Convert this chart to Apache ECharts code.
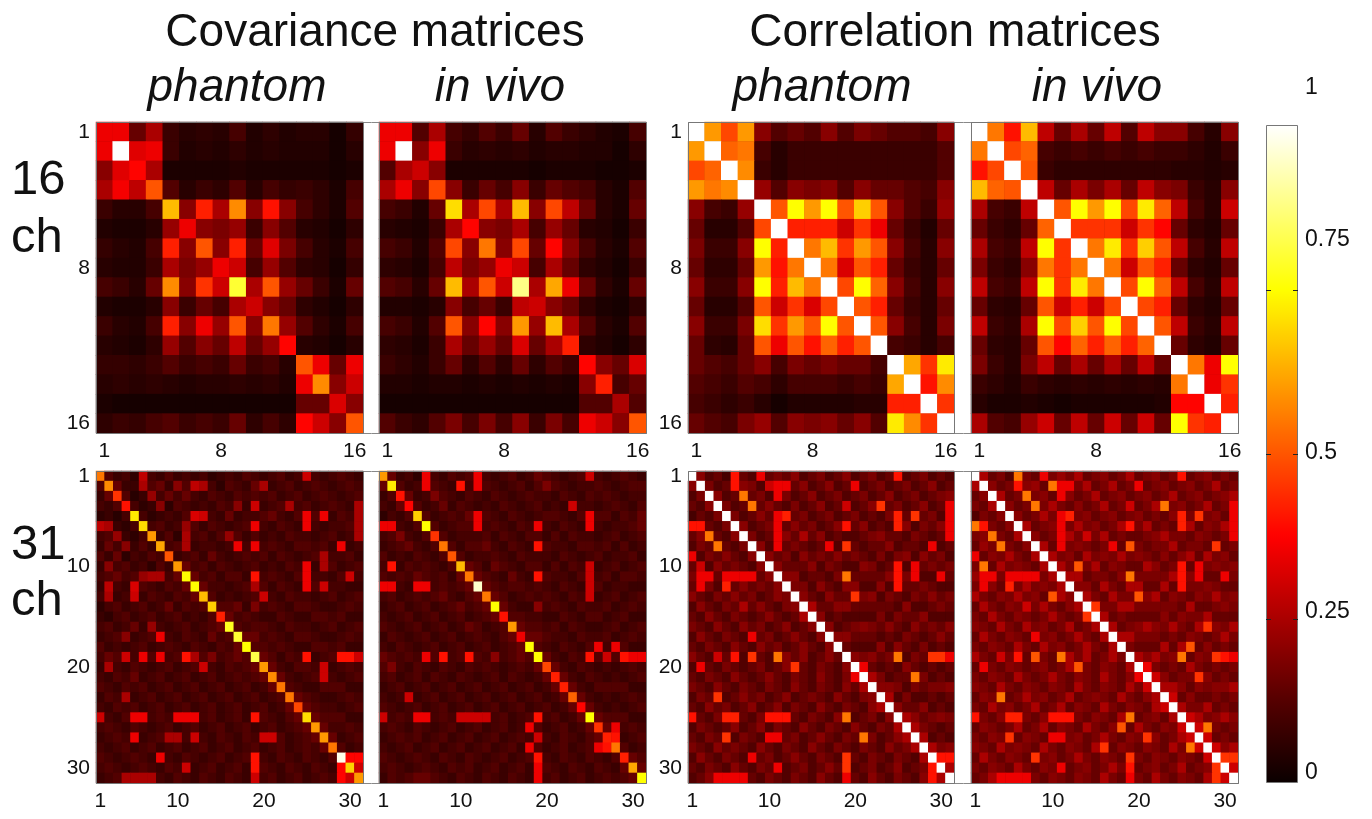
<!DOCTYPE html>
<html>
<head>
<meta charset="utf-8">
<script src="https://cdn.jsdelivr.net/npm/echarts@6/dist/echarts.min.js"></script>
<style>
  html, body { margin: 0; padding: 0; background: #fff; }
  #chart { width: 1372px; height: 819px; }
</style>
</head>
<body>
<div id="chart"></div>
<script>
// values in hundredths (0..100)
var covPhantom16 = [
  [35,35,15,25,8,5,6,5,10,4,6,4,5,5,2,7],
  [35,100,33,35,8,4,5,4,6,4,5,4,4,4,2,5],
  [20,33,38,25,3,3,3,3,4,3,3,3,3,3,2,3],
  [25,36,28,50,12,5,8,6,12,5,10,7,8,6,3,10],
  [8,5,5,10,65,20,42,25,58,20,40,20,10,6,3,12],
  [4,3,3,5,22,35,20,18,22,8,20,12,5,4,2,6],
  [7,5,4,10,42,20,50,20,42,15,33,18,10,5,3,10],
  [5,4,4,8,25,18,22,35,30,10,22,12,6,5,2,7],
  [10,8,5,15,58,20,45,30,80,25,50,22,15,8,3,15],
  [4,3,3,5,20,8,15,10,25,30,20,15,6,4,2,6],
  [8,5,4,10,42,20,35,22,50,20,55,22,12,6,3,10],
  [5,4,3,6,22,12,20,15,28,15,22,38,5,4,2,5],
  [7,7,6,8,12,8,10,8,15,8,10,5,50,35,15,35],
  [5,6,5,6,5,4,5,5,6,5,6,4,35,58,20,30],
  [3,2,2,2,2,2,2,2,2,2,2,2,15,15,32,20],
  [6,8,7,10,12,8,10,8,15,6,10,6,38,30,20,50]
];
var covVivo16 = [
  [35,35,12,25,10,7,12,8,15,5,12,8,6,4,3,10],
  [35,100,20,35,8,5,6,5,6,4,5,5,4,4,2,6],
  [12,25,30,20,3,3,3,3,3,2,3,3,3,2,2,3],
  [25,35,20,48,20,8,15,10,20,8,15,12,10,5,3,12],
  [10,8,4,15,70,25,48,25,65,20,48,28,15,5,3,15],
  [5,4,3,8,25,38,20,18,25,10,22,15,5,4,2,8],
  [10,8,4,12,48,20,55,20,48,15,38,20,10,5,3,12],
  [6,5,3,10,28,18,22,35,30,10,25,15,6,4,2,8],
  [12,10,5,15,65,25,50,30,88,25,62,35,15,6,3,15],
  [4,4,3,5,20,10,15,8,28,30,20,15,6,3,2,6],
  [10,8,4,12,50,20,38,20,60,22,65,25,12,5,3,12],
  [6,5,3,8,25,15,22,15,32,15,25,42,6,4,2,6],
  [8,6,4,8,15,6,12,6,15,6,12,8,38,20,15,32],
  [4,4,3,4,4,3,4,3,4,3,4,3,20,42,10,15],
  [2,2,2,2,2,2,2,2,2,2,2,2,12,12,25,12],
  [12,8,6,12,18,10,18,10,20,8,18,10,35,30,20,50]
];
var corrPhantom16 = [
  [100,60,48,60,20,12,15,12,20,12,18,15,12,12,10,20],
  [60,100,52,55,10,5,8,8,8,8,8,8,8,8,8,12],
  [48,52,100,58,8,5,8,8,8,8,8,8,8,8,8,12],
  [60,55,58,100,22,12,20,18,20,12,20,15,15,12,10,20],
  [20,10,8,22,100,50,75,60,75,50,68,50,20,12,8,22],
  [15,5,5,12,48,100,42,42,42,30,45,35,15,8,4,15],
  [18,8,8,20,75,42,100,55,65,45,60,50,20,10,5,20],
  [15,6,6,15,60,40,55,100,55,32,50,42,15,8,5,15],
  [20,8,8,20,75,42,65,55,100,48,75,52,20,10,5,20],
  [15,5,5,12,50,30,45,32,48,100,50,42,15,8,5,15],
  [20,8,8,18,70,45,60,50,75,50,100,50,20,10,5,18],
  [15,6,5,15,50,35,50,40,52,42,50,100,10,8,5,10],
  [15,12,10,15,20,10,18,15,18,15,15,10,100,62,45,72],
  [12,10,8,12,10,6,10,10,10,8,10,8,62,100,40,58],
  [10,8,6,8,5,2,4,4,4,4,5,5,42,42,100,45],
  [15,12,10,18,22,12,20,18,20,15,20,12,72,58,45,100]
];
var corrVivo16 = [
  [100,55,40,65,28,15,25,15,28,12,28,20,20,10,5,20],
  [55,100,48,52,10,8,10,8,10,8,10,8,8,6,4,8],
  [40,48,100,50,8,6,6,6,6,6,6,6,5,5,4,5],
  [65,52,50,100,28,15,25,18,25,15,28,20,18,8,5,20],
  [25,10,8,28,100,50,75,60,75,48,72,52,28,10,5,30],
  [15,8,6,15,52,100,45,45,45,30,45,38,15,6,4,15],
  [25,10,8,28,75,45,100,55,72,45,68,50,28,10,5,28],
  [18,8,6,20,55,45,55,100,55,30,50,42,15,6,4,15],
  [28,10,8,28,75,45,72,55,100,48,75,52,28,10,5,28],
  [15,6,5,15,50,30,42,30,48,100,48,42,15,6,4,15],
  [28,8,6,25,75,48,68,50,75,48,100,50,28,8,5,28],
  [15,6,5,15,50,38,52,42,52,42,52,100,15,6,4,15],
  [18,8,5,18,28,15,25,15,25,15,28,15,100,55,35,75],
  [8,6,4,8,6,5,6,5,6,5,6,5,55,100,35,45],
  [5,3,3,4,3,2,3,3,3,3,3,4,38,38,100,42],
  [25,12,10,22,30,15,28,15,30,15,30,15,75,45,42,100]
];

// 31-channel matrices are symmetric: lower triangle rows (row i holds cols 1..i)
var covPhantom31 = [
  [55],
  [12,58],
  [8,15,45],
  [10,8,12,40],
  [6,8,5,10,72],
  [28,25,8,6,10,70],
  [10,12,22,8,6,10,60],
  [8,15,10,20,8,12,8,62],
  [12,8,15,6,10,8,12,10,50],
  [8,20,10,12,8,10,6,12,8,60],
  [10,12,15,10,12,22,25,25,10,15,75],
  [8,28,10,8,32,12,10,8,12,10,15,75],
  [10,25,8,10,30,8,12,10,8,12,10,15,65],
  [6,10,12,8,10,12,8,10,15,8,12,10,12,68],
  [8,6,10,12,8,10,12,8,10,12,8,10,8,12,42],
  [10,12,8,10,15,8,22,10,8,10,12,8,10,12,15,78],
  [8,10,12,20,8,10,12,35,10,8,12,10,8,15,10,12,80],
  [12,8,10,8,10,12,8,10,12,10,8,12,10,8,12,10,15,75],
  [10,15,12,30,10,35,12,35,10,12,40,25,12,18,10,12,15,12,82],
  [8,25,10,8,12,10,8,10,12,8,10,12,30,10,8,12,10,12,15,60],
  [10,8,12,10,15,8,10,12,8,10,12,8,10,12,8,10,12,10,12,15,58],
  [12,10,8,12,10,12,8,10,12,8,10,12,8,10,12,8,10,12,8,10,15,55],
  [8,12,10,25,8,10,12,8,10,12,8,10,12,8,10,12,8,10,12,8,10,12,55],
  [10,8,12,10,12,8,10,12,8,10,12,8,10,12,8,10,12,8,10,12,8,10,15,48],
  [30,10,8,12,35,35,10,12,10,35,35,35,10,12,8,10,12,8,40,12,10,8,12,15,70],
  [10,12,10,8,12,10,8,10,12,8,10,12,8,10,12,8,10,12,8,10,12,8,10,12,15,60],
  [8,10,12,10,35,8,10,12,25,25,10,30,10,8,12,10,8,12,10,30,30,12,8,10,12,15,60],
  [10,8,10,12,8,10,12,8,10,12,8,10,12,8,10,12,8,10,12,8,10,12,8,10,12,10,15,55],
  [12,10,8,10,12,10,8,35,10,8,12,10,8,10,12,8,10,12,40,10,8,12,10,8,12,10,8,12,98],
  [10,12,10,8,10,12,10,8,12,10,30,8,10,12,8,10,12,8,40,12,10,8,12,10,8,12,10,8,38,68],
  [8,10,12,25,25,25,25,10,8,12,10,8,12,10,8,12,10,8,30,10,12,8,10,12,8,10,12,10,38,30,60]
];
var covVivo31 = [
  [60],
  [15,72],
  [8,12,40],
  [10,8,15,38],
  [6,10,8,12,68],
  [35,35,10,8,12,75],
  [10,12,18,10,8,12,45],
  [8,10,12,15,10,8,12,55],
  [12,8,10,8,12,10,8,12,50],
  [10,40,8,12,10,12,10,8,12,65],
  [12,10,12,10,15,12,10,12,8,15,55],
  [35,35,10,8,35,35,10,12,10,12,15,95],
  [10,12,8,10,12,10,12,15,10,8,12,15,55],
  [8,10,12,8,10,12,8,10,12,15,10,12,15,75],
  [10,8,10,12,8,10,12,8,10,12,8,10,12,15,40],
  [12,10,8,10,12,8,10,12,8,10,15,12,8,10,12,60],
  [8,12,10,8,10,12,8,10,12,8,10,12,10,8,12,15,35],
  [10,8,12,10,8,10,12,8,10,12,8,10,12,8,10,12,15,75],
  [15,12,10,12,10,35,12,40,10,12,40,12,10,20,10,12,15,12,75],
  [12,18,10,8,12,10,8,12,10,8,12,10,12,10,8,10,12,10,15,48],
  [10,12,8,10,12,8,12,10,8,12,10,8,10,12,8,12,10,8,10,15,42],
  [8,10,12,8,10,12,8,10,12,8,10,12,8,10,12,8,10,12,8,10,15,42],
  [10,8,10,30,8,10,12,8,10,12,8,10,12,8,10,12,8,10,12,8,10,15,52],
  [12,10,8,10,12,8,10,12,8,10,12,8,10,12,8,10,12,8,10,12,8,10,15,38],
  [30,10,12,10,35,35,10,12,10,30,30,30,30,10,12,8,10,12,40,10,12,8,10,15,75],
  [10,12,10,8,12,10,8,10,12,8,10,12,8,10,12,8,10,35,12,8,10,12,8,10,15,45],
  [8,10,12,10,12,8,10,12,8,10,12,8,10,12,8,10,12,10,30,10,8,12,10,8,12,15,42],
  [10,8,10,12,8,10,12,8,10,12,8,10,12,8,10,12,8,35,12,8,10,12,8,10,12,35,40,55],
  [12,10,8,10,12,10,8,12,10,8,12,10,8,10,12,8,10,12,40,10,8,12,10,8,12,10,8,12,42],
  [10,12,10,8,10,12,10,8,12,10,12,8,10,12,8,10,12,8,35,12,10,8,12,10,8,12,10,8,15,62],
  [8,12,10,12,15,15,12,10,8,12,10,8,12,10,8,12,10,8,35,10,12,8,10,12,8,10,12,10,12,15,75]
];
var corrPhantom31 = [
  [100],
  [20,100],
  [12,18,100],
  [15,12,20,100],
  [10,15,12,18,100],
  [40,40,15,12,18,100],
  [15,20,55,15,12,20,100],
  [12,18,15,55,15,12,18,100],
  [35,12,18,15,20,15,12,20,100],
  [15,30,12,20,15,18,15,12,20,100],
  [18,35,35,15,35,35,35,35,15,20,100],
  [15,35,18,12,42,15,20,15,18,15,20,100],
  [20,15,12,18,15,20,15,18,12,15,20,18,100],
  [12,20,15,12,18,15,25,15,20,15,12,18,20,100],
  [15,12,20,15,12,18,15,12,15,20,15,12,15,25,100],
  [18,15,12,20,15,12,20,15,18,12,15,20,12,15,20,100],
  [12,20,15,12,18,15,12,35,15,18,12,15,20,15,12,20,100],
  [15,12,18,15,12,20,15,12,20,15,18,12,15,20,15,12,20,100],
  [20,15,12,30,15,40,12,45,15,12,55,20,15,20,12,15,20,15,100],
  [12,35,15,12,18,15,12,15,18,12,15,20,45,15,12,18,15,12,20,100],
  [15,12,18,15,12,20,15,12,15,20,15,12,18,15,12,20,15,12,18,35,100],
  [18,15,12,20,15,12,18,15,12,18,15,12,20,15,12,18,15,12,20,15,25,100],
  [12,18,15,45,12,15,20,15,18,12,15,20,12,15,18,15,12,20,15,12,18,20,100],
  [15,12,20,15,18,12,15,20,12,15,20,12,18,15,12,20,15,12,18,15,12,20,25,100],
  [40,15,12,18,42,42,15,12,18,40,40,40,15,12,18,15,12,20,55,12,15,18,12,20,100],
  [12,18,15,12,15,20,12,15,20,12,18,15,12,20,15,12,18,15,12,20,15,12,18,15,25,100],
  [15,12,18,15,45,12,18,15,12,35,35,15,18,12,15,20,15,12,18,15,55,18,12,15,20,25,100],
  [18,15,12,20,15,18,15,12,20,15,12,18,15,12,20,15,12,18,15,12,18,15,12,20,15,18,25,100],
  [12,20,15,12,18,15,12,35,15,18,12,15,20,15,12,18,15,12,45,15,12,18,15,12,18,15,12,25,100],
  [15,12,18,15,12,20,15,12,18,15,35,12,15,18,12,15,20,15,45,12,15,18,12,15,20,12,15,18,40,100],
  [12,15,20,35,35,35,35,15,12,18,15,12,18,15,12,20,15,12,35,15,12,20,15,12,18,15,12,20,40,25,100]
];
var corrVivo31 = [
  [100],
  [25,100],
  [15,20,100],
  [18,15,25,100],
  [12,18,15,20,100],
  [55,40,18,15,20,100],
  [18,20,55,18,15,25,100],
  [15,22,18,55,18,15,20,100],
  [35,15,20,18,25,18,15,25,100],
  [18,55,15,25,18,20,18,15,25,100],
  [22,35,35,18,35,35,35,35,18,25,100],
  [18,35,20,15,42,18,25,18,20,18,25,100],
  [25,18,15,20,18,25,18,20,15,50,25,20,100],
  [15,25,18,15,20,18,30,18,25,18,15,20,25,100],
  [18,15,25,18,15,20,18,15,18,25,18,15,18,45,100],
  [20,18,15,25,18,15,25,18,20,15,18,25,15,18,25,100],
  [15,25,18,15,20,18,15,35,18,20,15,18,25,18,15,25,100],
  [18,15,20,18,15,25,18,15,25,18,20,15,18,25,18,15,25,100],
  [25,18,15,30,18,40,15,50,18,15,55,25,18,25,15,18,25,18,100],
  [15,35,18,15,20,18,15,18,20,15,18,25,50,18,15,20,18,15,25,100],
  [18,15,20,18,15,25,18,15,18,25,18,15,20,18,15,25,18,15,20,35,100],
  [20,18,15,25,18,15,20,18,15,20,18,15,25,18,15,20,18,15,25,18,30,100],
  [15,20,18,55,15,18,25,18,20,15,18,25,15,18,20,18,15,25,18,15,20,25,100],
  [18,15,25,18,20,15,18,25,15,18,25,15,20,18,15,25,18,15,20,18,15,25,30,100],
  [40,18,15,20,42,42,18,15,20,40,40,40,18,15,20,18,15,25,55,15,18,20,15,25,100],
  [15,20,18,15,18,25,15,18,25,15,20,18,15,25,18,15,20,50,15,25,18,15,20,18,30,100],
  [18,15,20,18,45,15,20,18,15,35,35,18,20,15,18,25,18,15,20,18,45,20,15,18,25,30,100],
  [20,18,15,25,18,20,18,15,25,18,15,20,18,15,25,45,15,20,18,15,20,18,15,25,18,55,30,100],
  [15,25,18,15,20,18,15,45,18,20,15,18,25,18,15,20,18,15,45,18,15,20,18,15,20,18,15,30,100],
  [18,15,20,18,15,25,18,15,20,18,35,15,18,20,15,18,25,18,40,15,18,20,15,18,25,15,18,20,45,100],
  [15,18,25,35,35,35,35,18,15,20,18,15,20,18,15,25,18,15,35,18,15,25,18,15,20,18,15,25,45,30,100]
];

var ticks16 = ['1', '8', '16'];
var ticks31 = ['1', '10', '20', '30'];
var cbTickLabels = ['1', '0.75', '0.5', '0.25', '0'];
var cbTickValues = [0.25, 0.5, 0.75];

function cellsFull(rows) {
  var out = [];
  rows.forEach(function (r, i) {
    r.forEach(function (v, j) { out.push([j, i, v / 100]); });
  });
  return out;
}
function cellsSym(rows) {
  var n = rows.length, out = [];
  for (var i = 0; i < n; i++) {
    for (var j = 0; j < n; j++) {
      var v = j <= i ? rows[i][j] : rows[j][i];
      if (v == null) v = 0;
      out.push([j, i, v / 100]);
    }
  }
  return out;
}
function cats(n) {
  var a = [];
  for (var i = 1; i <= n; i++) a.push(String(i));
  return a;
}

var FONT = '"Liberation Sans", Arial, sans-serif';
var panels = [
  { box: [96, 122, 267, 311], cells: cellsFull(covPhantom16), n: 16, ticks: ticks16, yLab: true },
  { box: [379, 122, 267, 311], cells: cellsFull(covVivo16), n: 16, ticks: ticks16, yLab: false },
  { box: [688, 122, 266, 311], cells: cellsFull(corrPhantom16), n: 16, ticks: ticks16, yLab: true },
  { box: [971, 122, 267, 311], cells: cellsFull(corrVivo16), n: 16, ticks: ticks16, yLab: false },
  { box: [96, 471, 267, 312], cells: cellsSym(covPhantom31), n: 31, ticks: ticks31, yLab: true },
  { box: [379, 471, 267, 312], cells: cellsSym(covVivo31), n: 31, ticks: ticks31, yLab: false },
  { box: [688, 471, 266, 312], cells: cellsSym(corrPhantom31), n: 31, ticks: ticks31, yLab: true },
  { box: [971, 471, 267, 312], cells: cellsSym(corrVivo31), n: 31, ticks: ticks31, yLab: false }
];

var grids = [], xAxes = [], yAxes = [], series = [], frames = [];
panels.forEach(function (p, k) {
  // dark fill behind the cells so anti-aliased seams do not show white
  grids.push({
    left: p.box[0], top: p.box[1], width: p.box[2], height: p.box[3],
    show: true, backgroundColor: '#1a0000', borderWidth: 0
  });
  var tk = p.ticks;
  var lab = {
    fontSize: 21, color: '#111', fontFamily: FONT,
    interval: function (idx, val) { return tk.indexOf(val) >= 0; }
  };
  xAxes.push({
    type: 'category', gridIndex: k, data: cats(p.n),
    axisLine: { show: false }, axisTick: { show: false }, splitLine: { show: false },
    axisLabel: Object.assign({ margin: 8 }, lab)
  });
  yAxes.push({
    type: 'category', gridIndex: k, data: cats(p.n), inverse: true,
    axisLine: { show: false }, axisTick: { show: false }, splitLine: { show: false },
    axisLabel: Object.assign({ margin: 6, show: p.yLab }, lab)
  });
  series.push({
    type: 'heatmap', xAxisIndex: k, yAxisIndex: k, data: p.cells,
    itemStyle: { borderWidth: 0 }, emphasis: { disabled: true }, silent: true
  });
  frames.push({
    type: 'rect', z: 100, silent: true,
    shape: { x: p.box[0] + 0.5, y: p.box[1] + 0.5, width: p.box[2], height: p.box[3] },
    style: { fill: null, stroke: '#777', lineWidth: 1 }
  });
});

// boxes spanning each phantom / in vivo pair
[[96, 122, 550, 311], [688, 122, 550, 311], [96, 471, 550, 312], [688, 471, 550, 312]].forEach(function (b) {
  frames.push({
    type: 'rect', z: 99, silent: true,
    shape: { x: b[0] + 0.5, y: b[1] + 0.5, width: b[2], height: b[3] },
    style: { fill: null, stroke: '#888', lineWidth: 1 }
  });
});

var cbLeft = 1266, cbTop = 125, cbW = 32, cbH = 658;
var cbLabelY = [88, 240, 453, 612, 773];

function txt(s, x, y, size, opts) {
  return Object.assign({
    type: 'text', z: 100, silent: true,
    style: {
      text: s, x: x, y: y, fill: '#111', align: 'center', verticalAlign: 'middle',
      font: size + 'px ' + FONT
    }
  }, opts || {});
}
var texts = [
  txt('Covariance matrices', 375, 33, 46),
  txt('Correlation matrices', 955, 33, 46),
  txt('phantom', 237, 88, 46),
  txt('in vivo', 500, 88, 46),
  txt('phantom', 822, 88, 46),
  txt('in vivo', 1097, 88, 46),
  txt('16', 11, 180, 49),
  txt('ch', 11, 238, 49),
  txt('31', 11, 545, 49),
  txt('ch', 11, 601, 49)
];
for (var q = 2; q < 6; q++) texts[q].style.font = 'italic 46px ' + FONT;
for (var t = 6; t < 10; t++) texts[t].style.align = 'left';

cbTickLabels.forEach(function (s, i) {
  var e = txt(s, 1305, cbLabelY[i], 23);
  e.style.align = 'left';
  texts.push(e);
});
cbTickValues.forEach(function (v) {
  var y = Math.round(cbTop + cbH * (1 - v)) + 0.5;
  frames.push({ type: 'line', z: 101, silent: true, shape: { x1: cbLeft, y1: y, x2: cbLeft + 5, y2: y }, style: { stroke: '#222', lineWidth: 1 } });
  frames.push({ type: 'line', z: 101, silent: true, shape: { x1: cbLeft + cbW - 5, y1: y, x2: cbLeft + cbW, y2: y }, style: { stroke: '#222', lineWidth: 1 } });
});
frames.push({
  type: 'rect', z: 100, silent: true,
  shape: { x: cbLeft + 0.5, y: cbTop + 0.5, width: cbW - 1, height: cbH - 1 },
  style: { fill: null, stroke: '#777', lineWidth: 1 }
});

var myChart = echarts.init(document.getElementById('chart'));
var option = {
  backgroundColor: '#fff',
  animation: false,
  grid: grids,
  xAxis: xAxes,
  yAxis: yAxes,
  visualMap: {
    type: 'continuous', min: 0, max: 1, calculable: false,
    seriesIndex: [0, 1, 2, 3, 4, 5, 6, 7],
    left: cbLeft, top: cbTop, itemWidth: cbW, itemHeight: cbH,
    padding: 0, text: null, showLabel: false,
    // MATLAB "hot" colormap
    inRange: { color: ['#0a0000', '#550000', '#aa0000', '#ff0000', '#ff5500', '#ffaa00', '#ffff00', '#ffff80', '#ffffff'] }
  },
  graphic: frames.concat(texts),
  series: series
};
myChart.setOption(option);
</script>
</body>
</html>
